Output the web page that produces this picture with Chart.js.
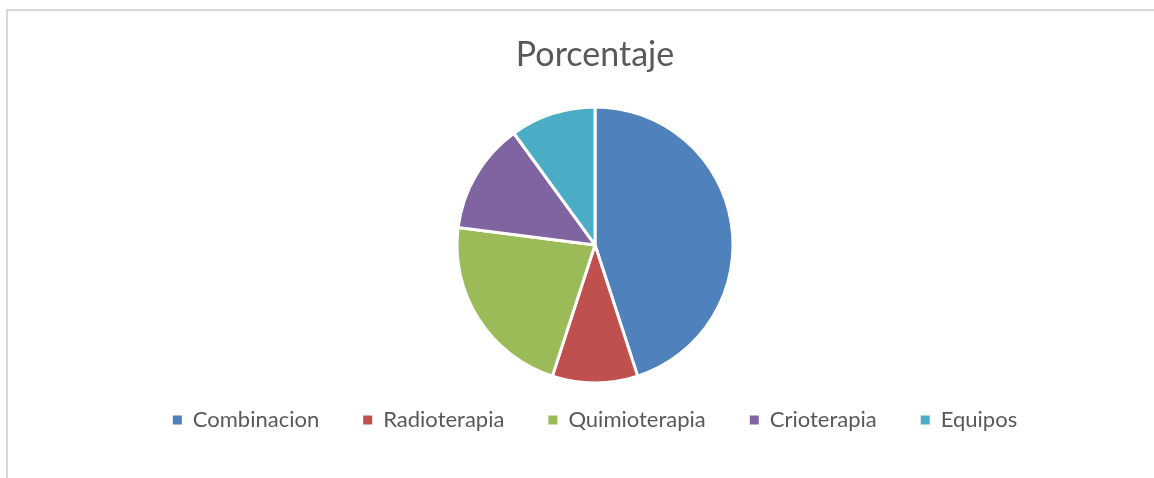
<!DOCTYPE html>
<html>
<head>
<meta charset="utf-8">
<script src="https://cdn.jsdelivr.net/npm/chart.js@4"></script>
<style>
  html, body { margin: 0; padding: 0; background: #fff; }
  body { width: 1154px; height: 478px; position: relative; overflow: hidden; }
  .frame { position: absolute; left: 6px; top: 9px; right: -2px; bottom: -2px;
           border-top: 2px solid #d9d9d9; border-left: 2px solid #d9d9d9; }
  .wrap { position: absolute; left: 0; top: 0; width: 1154px; height: 478px; }
</style>
</head>
<body>
<div class="frame"></div>
<div class="wrap"><canvas id="myChart"></canvas></div>
<script>
// datos del grafico
const categorias = ['Combinacion', 'Radioterapia', 'Quimioterapia', 'Crioterapia', 'Equipos'];
const porcentajes = [45, 10, 22, 13, 10];
const colores = ['#4F81BD', '#C0504D', '#9BBB59', '#8064A2', '#4BACC6'];

const ctx = document.getElementById('myChart');
const fuente = 'Lato, "Open Sans", sans-serif';

const chart = new Chart(ctx, {
  type: 'pie',
  data: {
    labels: categorias,
    datasets: [{
      data: porcentajes,
      backgroundColor: colores,
      borderColor: '#ffffff',
      borderWidth: 3,
      radius: 138,
      clip: false,
    }],
  },
  options: {
    responsive: true,
    maintainAspectRatio: false,
    animation: false,
    layout: { padding: { left: 36, right: 0, top: 0, bottom: 37 } },
    plugins: {
      tooltip: { enabled: false },
      title: {
        display: true,
        text: 'Porcentaje',
        color: '#595959',
        font: { family: fuente, size: 34, weight: 'normal' },
        padding: { top: 35, bottom: 49 },
      },
      legend: {
        position: 'bottom',
        labels: {
          color: '#595959',
          font: { family: fuente, size: 22 },
          boxWidth: 9,
          boxHeight: 9,
          padding: 44,
          // cuadros del legend sin borde blanco
          generateLabels: (c) => Chart.overrides.pie.plugins.legend.labels.generateLabels(c)
            .map(l => ({ ...l, lineWidth: 0, strokeStyle: l.fillStyle })),
        },
      },
    },
  },
});
</script>
</body>
</html>
